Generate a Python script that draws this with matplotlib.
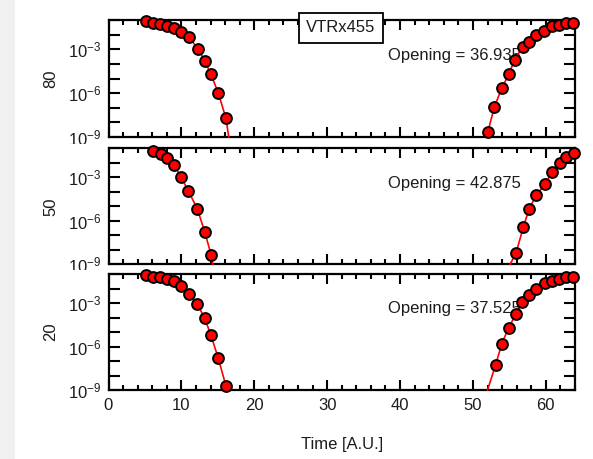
import matplotlib
matplotlib.use('Agg')
import math
import matplotlib.pyplot as plt
from matplotlib.patches import Rectangle
from matplotlib.ticker import LogLocator, MultipleLocator, FuncFormatter, NullLocator

plt.rcParams['font.family'] = ['Liberation Sans', 'DejaVu Sans']
plt.rcParams['mathtext.fontset'] = 'custom'
plt.rcParams['mathtext.rm'] = 'Liberation Sans'
plt.rcParams['mathtext.it'] = 'Liberation Sans:italic'

# datos (por panel: lado izquierdo y derecho)
panel_labels = ['80', '50', '20']
openings = ['Opening = 36.935', 'Opening = 42.875', 'Opening = 37.525']

x80_left = [5.1, 6.05, 7.05, 7.97, 8.97, 9.93, 10.98, 12.26, 13.2, 14.04, 15.04, 16.1]
y80_left = [8.9e-2, 5.9e-2, 5.4e-2, 3.9e-2, 2.7e-2, 1.4e-2, 7.2e-3, 1.1e-3, 1.7e-4, 2.0e-5, 1.1e-6, 2.0e-8]
x80_right = [52.03, 52.95, 53.95, 54.9, 55.7, 56.8, 57.7, 58.6, 59.8, 60.8, 61.75, 62.8, 63.7]
y80_right = [2.1e-9, 1.2e-7, 2.1e-6, 1.9e-5, 1.8e-4, 1.5e-3, 3.3e-3, 9.3e-3, 1.9e-2, 4.1e-2, 4.6e-2, 6.6e-2, 6.6e-2]

x50_left = [6.05, 7.15, 8.05, 8.97, 9.93, 10.93, 12.2, 13.2, 14.1]
y50_left = [6.8e-2, 4.1e-2, 2.0e-2, 7.1e-3, 1.1e-3, 1.2e-4, 6.5e-6, 1.7e-7, 4.2e-9]
x50_right = [55.9, 56.9, 57.7, 58.7, 59.9, 60.9, 61.9, 62.8, 63.8]
y50_right = [5.8e-9, 3.5e-7, 6.5e-6, 6.0e-5, 3.5e-4, 2.5e-3, 1.0e-2, 2.4e-2, 4.5e-2]

x20_left = [5.1, 6.05, 7.05, 8.05, 8.97, 9.93, 10.98, 12.2, 13.2, 14.04, 15.04, 16.1]
y20_left = [8.5e-2, 6.6e-2, 6.6e-2, 4.6e-2, 3.3e-2, 1.6e-2, 4.0e-3, 8.1e-4, 8.7e-5, 6.2e-6, 1.7e-7, 2.0e-9]
x20_right = [53.1, 53.95, 54.9, 55.9, 56.7, 57.7, 58.7, 59.9, 60.8, 61.75, 62.8, 63.7]
y20_right = [5.2e-8, 1.5e-6, 2.0e-5, 1.7e-4, 1.2e-3, 3.5e-3, 1.0e-2, 2.3e-2, 3.3e-2, 4.6e-2, 6.6e-2, 6.6e-2]

# donde la curva de ajuste corta el borde inferior (1e-9)
fit_end_left = [16.5, 14.3, 16.3]
fit_start_right = [51.8, 55.1, 52.0]

datos = [
    (x80_left, y80_left, x80_right, y80_right),
    (x50_left, y50_left, x50_right, y50_right),
    (x20_left, y20_left, x20_right, y20_right),
]

W, H = 593, 459
fig = plt.figure(figsize=(W / 100, H / 100), dpi=100)
fig.patch.set_facecolor('white')
fig.add_artist(Rectangle((0, 0), 15 / W, 1, transform=fig.transFigure,
                         facecolor='#f0f0f0', edgecolor='none', zorder=0))

left = 108.5 / W
width = (575 - 108.5) / W
tops = [20, 148.3, 274]
bottoms = [137, 264.3, 390]
text_color = '#1c1c1c'


def fmt_y(v, pos):
    exp = round(math.log10(v))
    if exp in (-3, -6, -9):
        return r'$\mathregular{10^{%d}}$' % exp
    return ''


axes = []
for i in range(3):
    # fondo blanco que tapa la etiqueta 10^-9 del panel de arriba
    if i > 0:
        fig.add_artist(Rectangle((15 / W, 1 - bottoms[i] / H), 1, (bottoms[i] - tops[i] + 4) / H,
                                 transform=fig.transFigure, facecolor='white',
                                 edgecolor='none', zorder=i + 0.5))
    ax = fig.add_axes([left, 1 - bottoms[i] / H, width, (bottoms[i] - tops[i]) / H])
    ax.set_zorder(i + 1)
    xl, yl, xr, yr = datos[i]

    ax.plot(xl + [fit_end_left[i]], yl + [1e-9], color='red', lw=1.2, zorder=4, clip_on=False)
    ax.plot([fit_start_right[i]] + xr, [1e-9] + yr, color='red', lw=1.2, zorder=4, clip_on=False)
    ax.plot(xl, yl, 'o', ms=7.8, mfc='red', mec='black', mew=1.4, zorder=5, clip_on=False)
    ax.plot(xr, yr, 'o', ms=7.8, mfc='red', mec='black', mew=1.4, zorder=5, clip_on=False)

    ax.set_yscale('log')
    ax.set_ylim(1e-9, 1e-1)
    ax.set_xlim(0, 64)
    ax.yaxis.set_major_locator(LogLocator(base=10, subs=(1.0,), numticks=20))
    ax.yaxis.set_minor_locator(NullLocator())
    ax.yaxis.set_major_formatter(FuncFormatter(fmt_y))
    ax.xaxis.set_major_locator(MultipleLocator(10))
    ax.xaxis.set_minor_locator(MultipleLocator(2))

    ax.tick_params(axis='both', which='both', direction='in', top=True, right=True,
                   width=1.5, colors='black', labelcolor=text_color, labelsize=12)
    ax.tick_params(axis='x', which='major', length=7, pad=6)
    ax.tick_params(axis='x', which='minor', length=3.5)
    ax.tick_params(axis='y', which='major', length=8, pad=5)
    for s in ax.spines.values():
        s.set_linewidth(1.6)

    ax.set_ylabel(panel_labels[i], fontsize=12, color=text_color)
    ax.yaxis.set_label_coords(-0.108, 0.5)
    ax.text(0.599, 0.70, openings[i], transform=ax.transAxes, ha='left', va='center',
            fontsize=12, color=text_color, zorder=3)
    if i < 2:
        ax.tick_params(axis='x', labelbottom=False)
    axes.append(ax)

axes[0].text(0.498, 0.932, 'VTRx455', transform=axes[0].transAxes, ha='center', va='center',
             fontsize=12, color=text_color, zorder=6,
             bbox=dict(boxstyle='square,pad=0.45', facecolor='white', edgecolor='black', lw=1.3))

axes[2].set_xlabel('Time [A.U.]', fontsize=12, color=text_color)
axes[2].xaxis.set_label_coords(0.5, -0.405)

fig.savefig('out.png', dpi=100)
